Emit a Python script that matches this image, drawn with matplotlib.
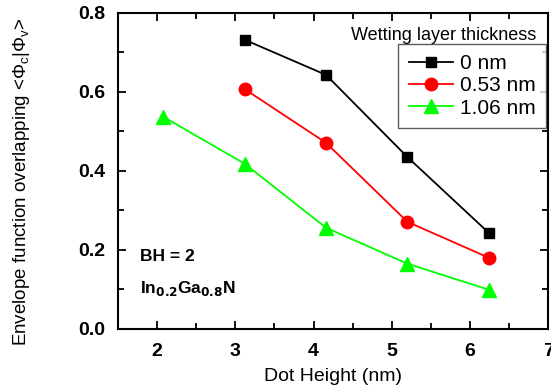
import matplotlib
matplotlib.use("Agg")
import matplotlib.pyplot as plt
from matplotlib.ticker import MultipleLocator

plt.rcParams['font.family'] = ['Liberation Sans', 'DejaVu Sans']

heights = [2.08, 3.12, 4.16, 5.20, 6.24]
wl_0 = [0.732, 0.643, 0.435, 0.243]        # starts at 3.12 nm
wl_053 = [0.607, 0.471, 0.271, 0.180]      # starts at 3.12 nm
wl_106 = [0.537, 0.418, 0.256, 0.165, 0.099]
labels = ['0 nm', '0.53 nm', '1.06 nm']

fig = plt.figure(figsize=(5.51, 3.91), dpi=100)
ax = fig.add_axes([0.214, 0.159, 0.781, 0.808])

ax.plot(heights[1:], wl_0, color='black', marker='s', ms=7, lw=1.3, label=labels[0])
ax.plot(heights[1:], wl_053, color='red', marker='o', ms=9, lw=1.3, label=labels[1])
ax.plot(heights, wl_106, color='#00ff00', marker='^', ms=10, lw=1.3, label=labels[2])

ax.set_xlim(1.5, 7)
ax.set_ylim(0, 0.8)
ax.set_xticks([2, 3, 4, 5, 6, 7])
ax.set_yticks([0.0, 0.2, 0.4, 0.6, 0.8])
ax.set_yticklabels(['0.0', '0.2', '0.4', '0.6', '0.8'])
ax.xaxis.set_minor_locator(MultipleLocator(0.5))
ax.yaxis.set_minor_locator(MultipleLocator(0.1))
ax.tick_params(which='both', direction='in', top=True, right=True, width=1.3)
ax.tick_params(which='major', length=6, labelsize=14)
ax.tick_params(which='minor', length=4)
ax.tick_params(axis='x', which='major', pad=10)
ax.tick_params(axis='y', which='major', pad=9)
for lab in ax.get_xticklabels() + ax.get_yticklabels():
    lab.set_fontweight('bold')
for s in ax.spines.values():
    s.set_linewidth(1.5)

ax.set_xlabel('Dot Height (nm)', fontsize=14)
ax.xaxis.set_label_coords(0.5, -0.125)
ax.set_ylabel(r'Envelope function overlapping <$\mathregular{\Phi_c|\Phi_v}$>', fontsize=13.5)
ax.yaxis.set_label_coords(-0.2, 0.465)

ax.text(0.542, 0.93, 'Wetting layer thickness', transform=ax.transAxes,
        fontsize=13, va='center')
leg = ax.legend(loc='upper right', bbox_to_anchor=(0.995, 0.902), borderaxespad=0,
                fontsize=15, frameon=True, fancybox=False, edgecolor='#333333',
                handlelength=2.1, borderpad=0.5, labelspacing=0.15,
                handletextpad=0.35)
leg.get_frame().set_linewidth(1.0)

ax.text(0.051, 0.228, 'BH = 2', transform=ax.transAxes, fontsize=12.5,
        fontweight='bold', va='center')
ax.text(0.051, 0.127, r'In$_{\mathbf{0.2}}$Ga$_{\mathbf{0.8}}$N', transform=ax.transAxes,
        fontsize=12.5, fontweight='bold', va='center')

fig.savefig('out.png', dpi=100)
